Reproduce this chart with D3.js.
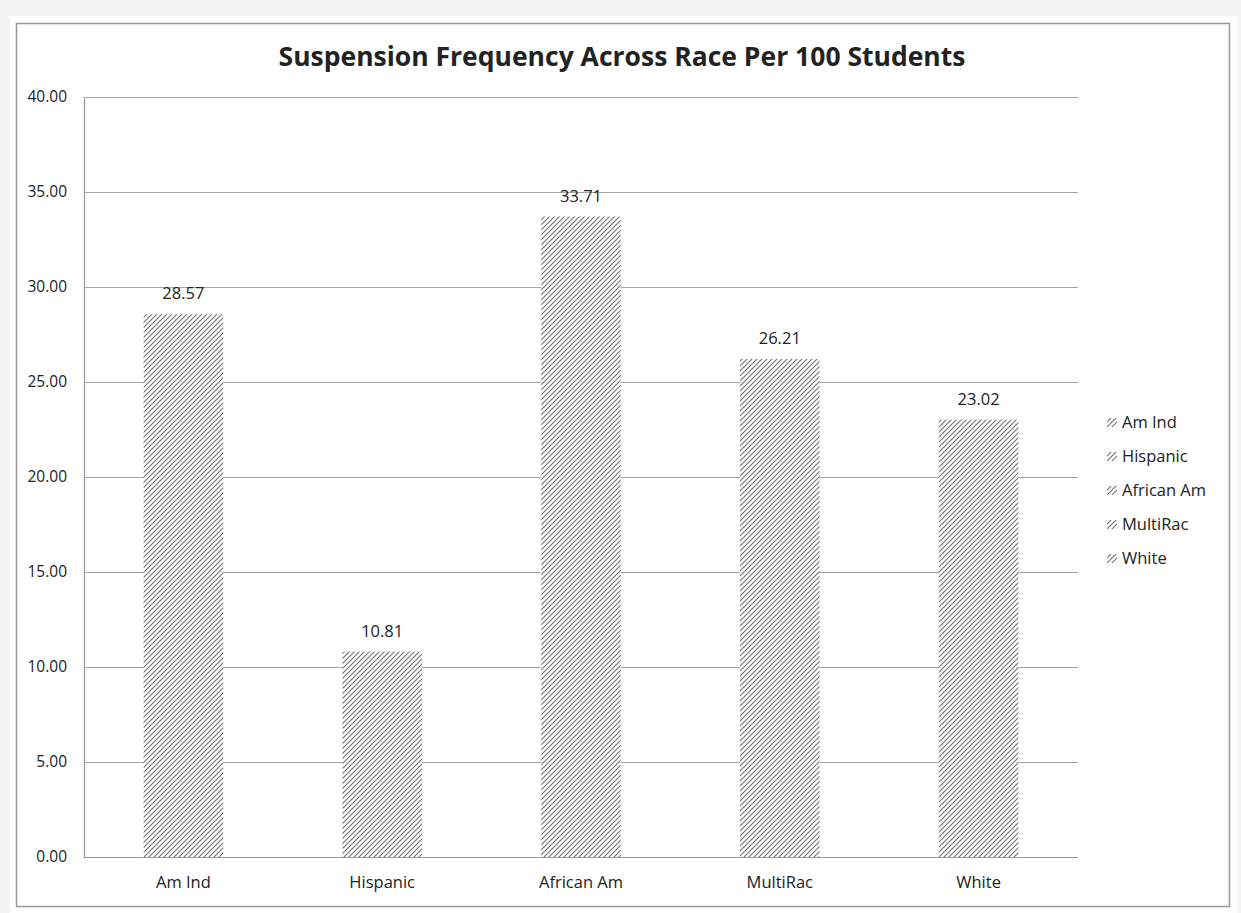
<!DOCTYPE html>
<html>
<head>
<meta charset="utf-8">
<script src="https://cdn.jsdelivr.net/npm/d3@7"></script>
<style>
  body { margin: 0; background: #f4f4f4; }
  svg { display: block; }
  text { font-family: "Open Sans", "Liberation Sans", sans-serif; fill: #222; }
</style>
</head>
<body>
<div id="chart"></div>
<script>
// data
var categories = ["Am Ind", "Hispanic", "African Am", "MultiRac", "White"];
var values = [28.57, 10.81, 33.71, 26.21, 23.02];
var yTicks = [0, 5, 10, 15, 20, 25, 30, 35, 40];
var title = "Suspension Frequency Across Race Per 100 Students";

var W = 1241, H = 913;
var margin = {top: 97, right: 163, bottom: 56, left: 84},
    width = W - margin.left - margin.right,
    height = H - margin.top - margin.bottom;

var svg = d3.select("#chart").append("svg")
    .attr("width", W)
    .attr("height", H);

// white panel and outer frame
svg.append("rect")
    .attr("x", 10).attr("y", 16)
    .attr("width", W - 14).attr("height", H - 16)
    .attr("fill", "#fff");
svg.append("rect")
    .attr("x", 16.5).attr("y", 23.5)
    .attr("width", 1213).attr("height", 883)
    .attr("fill", "none")
    .attr("stroke", "#999")
    .attr("stroke-width", 1.5);

// hatch pattern
var defs = svg.append("defs");
var pat = defs.append("pattern")
    .attr("id", "hatch")
    .attr("patternUnits", "userSpaceOnUse")
    .attr("width", 5).attr("height", 5);
pat.append("rect").attr("width", 5).attr("height", 5).attr("fill", "#fff");
pat.append("path")
    .attr("d", "M-1,1 l2,-2 M0,5 l5,-5 M4,6 l2,-2")
    .attr("stroke", "#707070")
    .attr("stroke-width", 1.1);

var g = svg.append("g")
    .attr("transform", "translate(" + margin.left + "," + margin.top + ")");

var x = d3.scaleBand()
    .domain(categories)
    .range([0, width])
    .paddingInner(0.6)
    .paddingOuter(0.3);

var y = d3.scaleLinear()
    .domain([0, 40])
    .range([height, 0]);

// gridlines
g.append("g")
    .selectAll("line")
    .data(yTicks)
    .enter().append("line")
    .attr("x1", 0).attr("x2", width)
    .attr("y1", function(d) { return Math.round(y(d)) + 0.5; })
    .attr("y2", function(d) { return Math.round(y(d)) + 0.5; })
    .attr("stroke", function(d) { return d === 0 ? "#999" : "#a6a6a6"; })
    .attr("stroke-width", 1.2);

// y axis
var yAxis = g.append("g")
    .call(d3.axisLeft(y).tickValues(yTicks).tickSize(0).tickPadding(17)
      .tickFormat(d3.format(".2f")));
yAxis.select(".domain").attr("stroke", "#999").attr("stroke-width", 1.2);
yAxis.selectAll("text")
    .style("font-size", "15.5px")
    .attr("fill", "#222");

// bars
g.selectAll("rect.bar")
    .data(values)
    .enter().append("rect")
    .attr("class", "bar")
    .attr("x", function(d, i) { return x(categories[i]); })
    .attr("y", function(d) { return y(d); })
    .attr("width", x.bandwidth())
    .attr("height", function(d) { return height - y(d); })
    .attr("fill", "url(#hatch)");

// value labels
g.selectAll("text.val")
    .data(values)
    .enter().append("text")
    .attr("class", "val")
    .attr("x", function(d, i) { return x(categories[i]) + x.bandwidth() / 2; })
    .attr("y", function(d) { return y(d) - 15; })
    .attr("text-anchor", "middle")
    .style("font-size", "16.5px")
    .text(function(d) { return d.toFixed(2); });

// x labels
g.selectAll("text.cat")
    .data(categories)
    .enter().append("text")
    .attr("class", "cat")
    .attr("x", function(d) { return x(d) + x.bandwidth() / 2; })
    .attr("y", height + 31)
    .attr("text-anchor", "middle")
    .style("font-size", "16.5px")
    .text(function(d) { return d; });

// title
svg.append("text")
    .attr("x", 622)
    .attr("y", 66)
    .attr("text-anchor", "middle")
    .style("font-size", "26.5px")
    .style("font-weight", "bold")
    .text(title);

// legend
var legend = svg.append("g")
    .attr("transform", "translate(1107,422)");
var item = legend.selectAll("g")
    .data(categories)
    .enter().append("g")
    .attr("transform", function(d, i) { return "translate(0," + (i * 34) + ")"; });
item.append("rect")
    .attr("x", 0).attr("y", -4)
    .attr("width", 10).attr("height", 9)
    .attr("fill", "url(#hatch)");
item.append("text")
    .attr("x", 15)
    .attr("y", 6)
    .style("font-size", "16.5px")
    .text(function(d) { return d; });
</script>
</body>
</html>
